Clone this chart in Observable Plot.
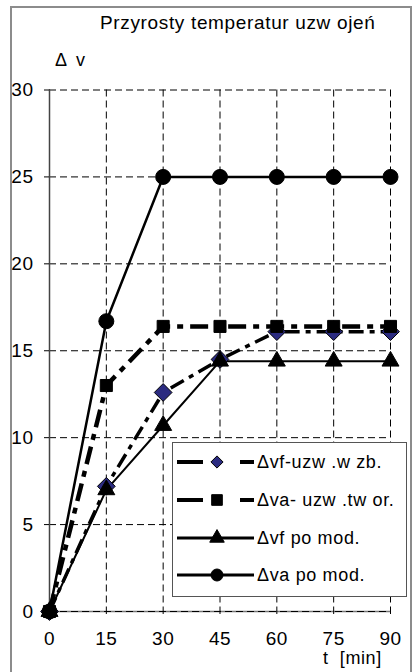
<!DOCTYPE html>
<html>
<head>
<meta charset="utf-8">
<script src="https://cdn.jsdelivr.net/npm/d3@7"></script>
<script src="https://cdn.jsdelivr.net/npm/@observablehq/plot@0.6"></script>
<style>
  html, body { margin: 0; padding: 0; background: white; overflow: hidden; }
  #wrap { position: relative; width: 413px; height: 672px; overflow: hidden; background: white;
          font-family: "Liberation Sans", Arial, sans-serif; color: black; }
  #title { position: relative; height: 45px; }
  #title span { position: absolute; left: 100px; top: 13px; font-size: 19px; line-height: 19px; letter-spacing: 0.65px; white-space: pre; }
  .lbl { position: absolute; font-size: 18px; line-height: 18px; white-space: pre; letter-spacing: 0.6px; }
  #frame { position: absolute; left: 10px; top: 6px; width: 398px; height: 700px; border: 2px solid #8c8c8c; pointer-events: none; z-index: 5; }
  #legend { position: absolute; left: 172px; top: 442px; width: 233px; height: 153px; border: 1px solid #555; background: white; z-index: 3; }
  #legend .row { position: absolute; left: 0; height: 20px; }
  #legend .txt { position: absolute; left: 84px; top: 0; font-size: 18px; line-height: 20px; letter-spacing: 0.65px; white-space: pre; }
  #chart svg { display: block; }
</style>
</head>
<body>
<div id="wrap">
  <div id="title"><span>Przyrosty temperatur uzw ojeń</span></div>
  <div id="chart"></div>
  <div class="lbl" style="left:55px; top:51px; letter-spacing:2.5px;">Δ v</div>
  <div class="lbl" style="left:323px; top:649px;">t  [min]</div>
  <div id="legend"></div>
  <div id="frame"></div>
</div>
<script>
// ---- data ----
const times = [0, 15, 30, 45, 60, 75, 90];
const yTicks = [0, 5, 10, 15, 20, 25, 30];
const seriesNames = ["Δvf-uzw .w zb.", "Δva- uzw .tw or.", "Δvf po mod.", "Δva po mod."];
const vfWzb  = [0, 7.2, 12.6, 14.5, 16.1, 16.1, 16.1];   // diamonds
const vaTwor = [0, 13.0, 16.4, 16.4, 16.4, 16.4, 16.4];  // squares
const vfMod  = [0, 7.0, 10.7, 14.4, 14.4, 14.4, 14.4];   // triangles
const vaMod  = [0, 16.7, 25, 25, 25, 25, 25];            // circles

// ---- styles ----
const styles = [
  {values: vfWzb,  symbol: "diamond2", r: 8,   fill: "#2b2b80", width: 3.5, dash: "15,6,5,6",  dashed: true},
  {values: vaTwor, symbol: "square",   r: 6.8, fill: "black",   width: 4.5, dash: "18,7,6,7",  dashed: true},
  {values: vfMod,  symbol: "triangle", r: 6.3, fill: "black",   width: 2,   dash: null,        dashed: false},
  {values: vaMod,  symbol: "circle",   r: 7.5, fill: "black",   width: 2.5, dash: null,        dashed: false}
];

const tables = styles.map((s, k) => times.map((t, i) => ({t, v: s.values[i], name: seriesNames[k]})));

const lineMarks = styles.map((s, k) => Plot.line(tables[k], {
  x: "t", y: "v", stroke: "black", strokeWidth: s.width,
  strokeDasharray: s.dash || undefined, strokeLinejoin: "miter", strokeLinecap: "butt"
}));
const dotMarks = styles.map((s, k) => Plot.dot(tables[k], {
  x: "t", y: "v", symbol: s.symbol, r: s.r, fill: s.fill, stroke: "black", strokeWidth: 1
}));

const chart = Plot.plot({
  width: 413,
  height: 627,
  marginLeft: 49,
  marginRight: 23,
  marginTop: 44.5,
  marginBottom: 61,
  style: {fontFamily: "'Liberation Sans', Arial, sans-serif", fontSize: "19px", letterSpacing: "0.5px", background: "transparent", color: "black", overflow: "visible"},
  x: {domain: [0, 90], ticks: times, label: null},
  y: {domain: [0, 30], ticks: yTicks, label: null},
  marks: [
    Plot.ruleY([0], {stroke: "#777", strokeWidth: 1.5}),
    Plot.ruleY(yTicks, {stroke: "black", strokeWidth: 1, strokeDasharray: "7,4"}),
    Plot.ruleX(times, {stroke: "black", strokeWidth: 1, strokeDasharray: "7,4"}),
    Plot.ruleX([0], {stroke: "#444", strokeWidth: 1.5}),
    Plot.axisX({ticks: times, tickSize: 3, tickPadding: 17, fontSize: 19, label: null}),
    Plot.axisY({ticks: yTicks, tickSize: 5, tickPadding: 11, fontSize: 19, label: null}),
    ...lineMarks,
    ...dotMarks
  ]
});
document.getElementById("chart").appendChild(chart);

// ---- legend ----
const legend = document.getElementById("legend");
const rowTops = [9, 47, 85, 122];
const sizes = [5.5, 6, 5.4, 6];
styles.forEach((s, k) => {
  const row = document.createElement("div");
  row.className = "row";
  row.style.top = rowTops[k] + "px";
  row.style.width = "233px";
  const svg = d3.create("svg").attr("width", 84).attr("height", 20).style("position", "absolute").style("left", "0").style("top", "0");
  if (s.dashed) {
    svg.append("line").attr("x1", 4).attr("x2", 30).attr("y1", 10).attr("y2", 10).attr("stroke", "black").attr("stroke-width", 4);
    svg.append("line").attr("x1", 67).attr("x2", 81).attr("y1", 10).attr("y2", 10).attr("stroke", "black").attr("stroke-width", 4);
  } else {
    svg.append("line").attr("x1", 4).attr("x2", 81).attr("y1", 10).attr("y2", 10).attr("stroke", "black").attr("stroke-width", 3);
  }
  const symMap = {diamond2: d3.symbolDiamond2, square: d3.symbolSquare, triangle: d3.symbolTriangle, circle: d3.symbolCircle};
  svg.append("path")
    .attr("d", d3.symbol(symMap[s.symbol], Math.PI * sizes[k] * sizes[k])())
    .attr("transform", "translate(44,10)")
    .attr("fill", s.fill).attr("stroke", "black").attr("stroke-width", 1);
  row.appendChild(svg.node());
  const txt = document.createElement("div");
  txt.className = "txt";
  txt.textContent = seriesNames[k];
  row.appendChild(txt);
  legend.appendChild(row);
});
</script>
</body>
</html>
